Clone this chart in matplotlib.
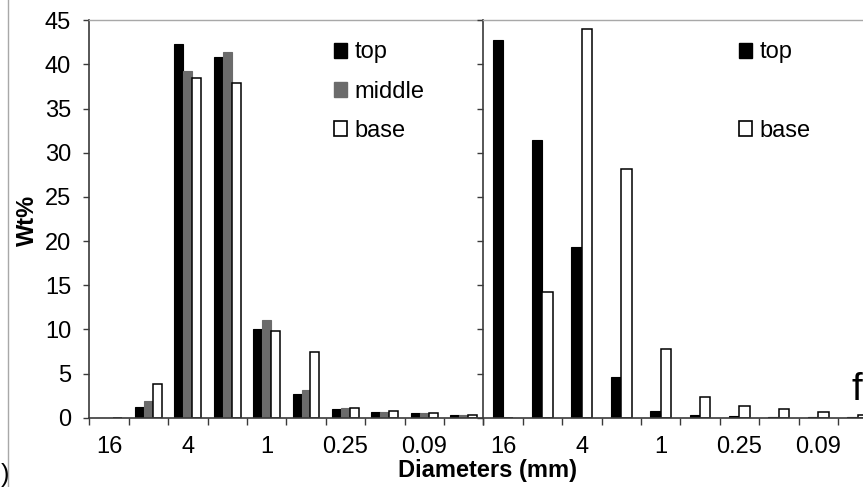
import numpy as np
import matplotlib
matplotlib.use("Agg")
import matplotlib.pyplot as plt
from matplotlib.patches import Rectangle
from matplotlib.lines import Line2D

plt.rcParams['font.family'] = ['Liberation Sans', 'DejaVu Sans']

# size classes (mm); only every other one gets a label
sizes = ['16', '8', '4', '2', '1', '0.5', '0.25', '0.125', '0.09', '0.063']
shown = ['16', '4', '1', '0.25', '0.09']

# left panel (Wt%)
left_top = [0, 1.2, 42.3, 40.8, 10.1, 2.7, 1.0, 0.7, 0.5, 0.25]
left_middle = [0, 1.9, 39.3, 41.4, 11.1, 3.1, 1.1, 0.7, 0.5, 0.25]
left_base = [0, 3.8, 38.5, 37.9, 9.8, 7.4, 1.1, 0.75, 0.55, 0.3]

# right panel (Wt%)
right_top = [42.8, 31.4, 19.3, 4.6, 0.8, 0.3, 0.2, 0.05, 0.05, 0.1]
right_base = [0, 14.2, 44.05, 28.2, 7.75, 2.4, 1.35, 1.0, 0.7, 0.35]

BLACK = "#000000"
GREY = "#6b6b6b"
FRAME = "#a8a8a8"
AXIS = "#3a3a3a"

W, H = 863, 487
fig = plt.figure(figsize=(W / 100, H / 100), dpi=100)
fig.patch.set_facecolor("white")

ax_l = fig.add_axes([89.3 / W, 69.3 / H, 394 / W, 397.4 / H])
ax_r = fig.add_axes([483.3 / W, 69.3 / H, 394 / W, 397.4 / H])

x = np.arange(len(sizes))

bw = 0.228
ax_l.bar(x - bw, left_top, bw, color=BLACK, edgecolor=BLACK, linewidth=0.8, label="top")
ax_l.bar(x, left_middle, bw, color=GREY, edgecolor=GREY, linewidth=0.8, label="middle")
ax_l.bar(x + bw, left_base, bw, color="white", edgecolor=BLACK, linewidth=1.1, label="base")

bw2 = 0.262
ax_r.bar(x - bw2 / 2, right_top, bw2, color=BLACK, edgecolor=BLACK, linewidth=0.8)
ax_r.bar(x + bw2 / 2, right_base, bw2, color="white", edgecolor=BLACK, linewidth=1.1)

for ax in (ax_l, ax_r):
    ax.set_xlim(-0.5, len(sizes) - 0.5)
    ax.set_ylim(0, 45)
    ax.set_yticks(np.arange(0, 46, 5))
    ax.set_xticks(x[::2])
    ax.set_xticklabels(shown)
    ax.set_xticks(np.arange(-0.5, len(sizes)), minor=True)
    ax.tick_params(axis='x', which='major', length=0, pad=13, labelsize=17)
    ax.tick_params(axis='x', which='minor', direction='out', length=5, width=1, color=AXIS)
    ax.tick_params(axis='y', direction='out', length=4, width=1, color=AXIS, labelsize=17, pad=9)
    ax.spines['right'].set_visible(False)
    ax.spines['top'].set_color(FRAME)
    ax.spines['top'].set_linewidth(1)
    for s in ('left', 'bottom'):
        ax.spines[s].set_color(AXIS)
        ax.spines[s].set_linewidth(1.2)
    ax.set_facecolor("none")

ax_r.tick_params(axis='y', labelleft=False)

# legends
h_top = Rectangle((0, 0), 1, 1, facecolor=BLACK, edgecolor=BLACK)
h_mid = Rectangle((0, 0), 1, 1, facecolor=GREY, edgecolor=GREY)
h_base = Rectangle((0, 0), 1, 1, facecolor="white", edgecolor=BLACK, linewidth=1.2)
h_blank = Rectangle((0, 0), 1, 1, facecolor="none", edgecolor="none")
leg_kw = dict(frameon=False, loc='upper left', fontsize=17, handlelength=0.55,
              handleheight=0.6, handletextpad=0.35, labelspacing=0.73,
              borderpad=0, borderaxespad=0)
ax_l.legend([h_top, h_mid, h_base], ["top", "middle", "base"],
            bbox_to_anchor=(0.62, 0.947), **leg_kw)
ax_r.legend([h_top, h_blank, h_base], ["top", " ", "base"],
            bbox_to_anchor=(0.648, 0.947), **leg_kw)

# labels
fig.text(27 / W, 1 - 220 / H, "Wt%", rotation=90, ha='center', va='center',
         fontsize=17, fontweight='bold')
fig.text(487.5 / W, 1 - 470 / H, "Diameters (mm)", ha='center', va='center',
         fontsize=17, fontweight='bold')
# panel letters sit right at the page edges
fig.text(862 / W, 1 - 400 / H, "f", ha='right', va='baseline', fontsize=28)
fig.text(0.5 / W, 1 - 482 / H, ")", ha='left', va='baseline', fontsize=18)

# thin page frame on the left
fig.add_artist(Line2D([8 / W, 8 / W], [0, 1], transform=fig.transFigure,
                      color=FRAME, linewidth=1))

fig.savefig("out.png", dpi=100, facecolor="white")
